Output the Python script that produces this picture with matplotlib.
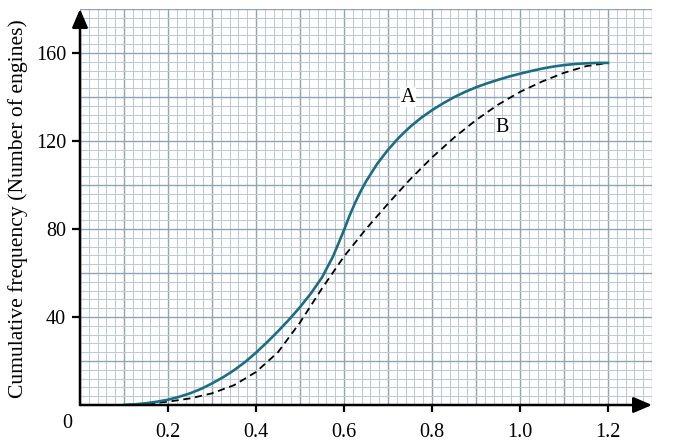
import numpy as np
import matplotlib
matplotlib.use('Agg')
import matplotlib.pyplot as plt

# Curve A (solid)
x_a = [0.100, 0.125, 0.150, 0.175, 0.200, 0.225, 0.250, 0.275, 0.300, 0.325,
       0.350, 0.375, 0.400, 0.425, 0.450, 0.475, 0.500, 0.525, 0.550, 0.575,
       0.600, 0.6125, 0.625, 0.6375, 0.650, 0.675, 0.700, 0.725, 0.750, 0.775,
       0.800, 0.825, 0.850, 0.875, 0.900, 0.925, 0.950, 0.975, 1.000, 1.025,
       1.050, 1.075, 1.100, 1.125, 1.150, 1.175, 1.200]
y_a = [0.0, 0.3, 0.8, 1.5, 2.4, 3.7, 5.3, 7.3, 9.8, 12.6,
       15.8, 19.5, 23.8, 28.5, 33.5, 38.8, 44.5, 50.8, 58.0, 67.5,
       79.5, 86.0, 91.8, 97.0, 101.6, 109.5, 116.0, 121.6, 126.4, 130.5,
       134.0, 137.1, 139.9, 142.3, 144.4, 146.2, 147.8, 149.3, 150.6, 151.8,
       152.9, 153.8, 154.5, 155.0, 155.3, 155.5, 155.5]

# Curve B (dashed)
x_b = [0.100, 0.150, 0.200, 0.250, 0.300, 0.350, 0.400, 0.450, 0.500, 0.550,
       0.600, 0.650, 0.700, 0.750, 0.800, 0.850, 0.900, 0.950, 1.000, 1.050,
       1.100, 1.150, 1.200]
y_b = [0.0, 0.5, 1.5, 3.0, 5.3, 9.0, 15.0, 24.0, 37.5, 53.0,
       67.5, 80.0, 91.5, 102.5, 112.5, 121.5, 129.5, 136.5, 142.3, 147.0,
       151.0, 154.0, 155.5]

x_ticks = [0.2, 0.4, 0.6, 0.8, 1.0, 1.2]
x_tick_labels = ['0.2', '0.4', '0.6', '0.8', '1.0', '1.2']
y_ticks = [40, 80, 120, 160]
y_tick_labels = ['40', '80', '120', '160']

plt.rcParams['font.family'] = ['Liberation Serif', 'DejaVu Serif']

fig = plt.figure(figsize=(6.9, 4.45), dpi=100)
ax = fig.add_axes([80 / 690, 40 / 445, 572 / 690, 396 / 445])
ax.set_xlim(0, 1.3)
ax.set_ylim(0, 180)
for s in ax.spines.values():
    s.set_visible(False)

minor_c = '#bccbd5'
major_c = '#90a5b3'
for i in range(0, 66):
    v = i * 0.02
    major = (i % 5 == 0)
    ax.axvline(v, color=major_c if major else minor_c,
               lw=1.0 if major else 0.75, zorder=0)
for i in range(0, 46):
    v = i * 4
    major = (i % 5 == 0)
    ax.axhline(v, color=major_c if major else minor_c,
               lw=1.0 if major else 0.75, zorder=0)

ax.plot(x_a, y_a, color='#1b6d86', lw=1.9, zorder=3, solid_joinstyle='round')
ax.plot(x_b, y_b, color='black', lw=1.3, ls=(0, (4, 2.6)), zorder=2)

ax.text(0.745, 140, 'A', fontsize=14.5, ha='center', va='center', zorder=4,
        bbox=dict(facecolor='white', edgecolor='none', pad=0.5))
ax.text(0.959, 126, 'B', fontsize=14.5, ha='center', va='center', zorder=4,
        bbox=dict(facecolor='white', edgecolor='none', pad=0.5))

ax.set_xticks(x_ticks)
ax.set_xticklabels(x_tick_labels)
ax.set_yticks(y_ticks)
ax.set_yticklabels(y_tick_labels)
ax.tick_params(axis='x', length=5, width=1.6, pad=8, labelsize=14.5, color='black')
ax.tick_params(axis='y', length=5.5, width=1.6, pad=4.5, labelsize=14.5, color='black')

# axes with arrows
for end in [(1.3, 0), (0, 180)]:
    ax.annotate('', xy=end, xytext=(0, 0), xycoords='data',
                arrowprops=dict(arrowstyle='-|>,head_length=0.7,head_width=0.3',
                                lw=1.8, color='black', shrinkA=0, shrinkB=0,
                                mutation_scale=16),
                annotation_clip=False, zorder=5)

ax.text(-0.03, -8.5, '0', fontsize=14.5, ha='center', va='center', clip_on=False)

fig.text(18 / 690, 1 - 209 / 445, 'Cumulative frequency (Number of engines)',
         rotation=90, fontsize=15.6, ha='center', va='center')

fig.savefig('out.png', dpi=100)
